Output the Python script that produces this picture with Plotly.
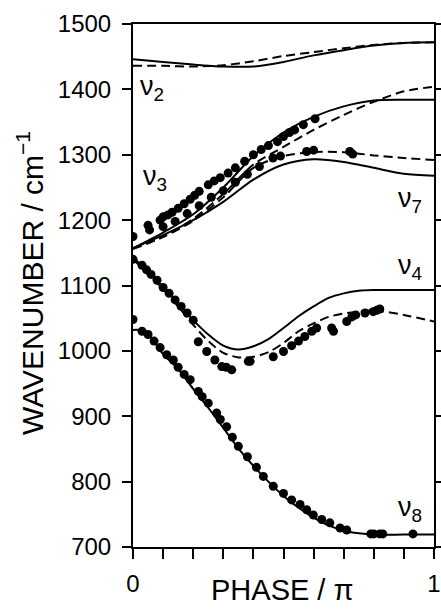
import plotly.graph_objects as go

# ---------------- data ----------------
# nu2 branch
NU2_X = [0, .1, .2, .3, .4, .5, .6, .7, .8, .9, 1.0]
NU2_SOLID = [1446, 1442, 1438, 1435, 1435, 1442, 1452, 1460, 1467, 1471, 1472]
NU2_DASH = [1436, 1436, 1435, 1437, 1443, 1451, 1457, 1463, 1468, 1471, 1472]

# nu3 / nu7 branches
NU37_X = [0, .1, .2, .3, .4, .5, .6, .7, .8, .9, 1.0]
NU3_SOLID = [1157, 1181, 1209, 1250, 1298, 1334, 1358, 1374, 1383, 1384, 1384]
NU3_DASH = [1156, 1175, 1202, 1240, 1285, 1312, 1338, 1361, 1381, 1397, 1404]
NU7_SOLID = [1157, 1177, 1200, 1228, 1262, 1285, 1293, 1289, 1280, 1271, 1268]
NU7_DASH = [1156, 1174, 1199, 1235, 1280, 1298, 1304, 1304, 1299, 1295, 1292]

# nu4 branch
NU4_X = [0, .05, .1, .15, .2, .25, .3, .35, .4, .45, .5, .55, .6, .65, .7, .75, .8, .9, 1.0]
NU4_SOLID = [1143, 1122, 1098, 1073, 1047, 1025, 1008, 1002, 1007, 1018, 1035, 1053, 1068, 1081, 1088, 1092, 1093, 1093, 1093]
NU4_DASH = [1140, 1118, 1094, 1068, 1040, 1015, 997, 990, 991, 998, 1012, 1030, 1042, 1052, 1057, 1060, 1062, 1055, 1045]

# nu8 branch
NU8_X = [0, .04, .1, .15, .2, .25, .3, .35, .4, .45, .5, .55, .6, .65, .7, .75, .8, .9, 1.0]
NU8_SOLID = [1032, 1030, 995, 972, 942, 913, 882, 851, 824, 800, 778, 760, 745, 733, 725, 721, 719, 719, 719]

# measured points
NU3_DOT_X = [0, .05, .055, .09, .10, .116, .13, .15, .17, .19, .205, .22, .25, .27, .29, .316, .34, .371,
             .40, .426, .45, .48, .50, .52, .537, .566, .605]
NU3_DOT_Y = [1175, 1192, 1185, 1200, 1205, 1208, 1212, 1218, 1225, 1232, 1238, 1244, 1254, 1260, 1265, 1272,
             1280, 1290, 1300, 1308, 1314, 1320, 1328, 1334, 1338, 1346, 1355]
NU7_DOT_X = [.10, .14, .18, .22, .26, .30, .34, .38, .42, .465, .49, .577, .60, .72, .73]
NU7_DOT_Y = [1190, 1198, 1210, 1222, 1235, 1245, 1258, 1270, 1282, 1295, 1298, 1305, 1307, 1305, 1301]
NU4_DOT_X = [0, .03, .045, .06, .08, .10, .12, .14, .16, .18, .20, .217, .245, .272, .295, .31, .328, .383,
             .389, .466, .50, .527, .55, .571, .594, .61, .66, .666, .71, .727, .74, .771, .798, .81, .82]
NU4_DOT_Y = [1140, 1131, 1124, 1117, 1108, 1097, 1088, 1078, 1068, 1058, 1047, 1014, 999, 986, 976, 975, 971, 984,
             984, 991, 999, 1008, 1015, 1022, 1030, 1035, 1035, 1030, 1045, 1052, 1055, 1058, 1060, 1062, 1064]
NU8_DOT_X = [0, .03, .05, .07, .09, .112, .134, .15, .17, .19, .217, .23, .25, .278, .29, .311, .33, .35, .38,
             .41, .433, .466, .50, .527, .555, .577, .599, .627, .654, .688, .71, .79, .80, .82, .83, .93]
NU8_DOT_Y = [1048, 1030, 1025, 1015, 1005, 994, 986, 975, 964, 956, 938, 930, 920, 905, 895, 884, 868, 854, 838,
             822, 808, 793, 782, 772, 765, 757, 749, 742, 737, 729, 726, 720, 720, 720, 720, 720]

X_TICKS = [0, 1.0]
X_TICK_TEXT = ["0", "1"]
X_MINOR_TICKS = [.1, .2, .3, .4, .5, .6, .7, .8, .9]
Y_TICKS = [700, 800, 900, 1000, 1100, 1200, 1300, 1400, 1500]

LABELS = ["ν<sub>2</sub>", "ν<sub>3</sub>", "ν<sub>7</sub>", "ν<sub>4</sub>", "ν<sub>8</sub>"]
LABEL_X = [0.063, 0.073, 0.92, 0.92, 0.92]
LABEL_Y = [1402, 1265, 1231, 1128, 758]

# ---------------- figure ----------------
fig = go.Figure()

def line(x, y, dash):
    fig.add_trace(go.Scatter(x=x, y=y, mode="lines",
                             line=dict(color="black", width=2, dash=dash, shape="spline", smoothing=0.8),
                             showlegend=False, hoverinfo="skip"))

def dots(x, y):
    fig.add_trace(go.Scatter(x=x, y=y, mode="markers",
                             marker=dict(color="black", size=9, line=dict(width=0)),
                             showlegend=False, hoverinfo="skip"))

DASH = "9px,5px"
line(NU2_X, NU2_SOLID, "solid")
line(NU2_X, NU2_DASH, DASH)
line(NU37_X, NU3_SOLID, "solid")
line(NU37_X, NU3_DASH, DASH)
line(NU37_X, NU7_SOLID, "solid")
line(NU37_X, NU7_DASH, DASH)
line(NU4_X, NU4_SOLID, "solid")
line(NU4_X, NU4_DASH, DASH)
line(NU8_X, NU8_SOLID, "solid")

dots(NU3_DOT_X, NU3_DOT_Y)
dots(NU7_DOT_X, NU7_DOT_Y)
dots(NU4_DOT_X, NU4_DOT_Y)
dots(NU8_DOT_X, NU8_DOT_Y)

for t, lx, ly in zip(LABELS, LABEL_X, LABEL_Y):
    fig.add_annotation(x=lx, y=ly, xref="x", yref="y", text=t, showarrow=False,
                       font=dict(family="Liberation Sans, Arial", size=27, color="black"))

FONT = "Liberation Sans, Arial, Helvetica, sans-serif"
fig.add_annotation(xref="paper", yref="paper", x=-0.342, y=0.505, textangle=-90,
                   text="WAVENUMBER / cm<sup>−1</sup>", showarrow=False,
                   font=dict(family=FONT, size=30, color="black"), xanchor="center", yanchor="middle")
fig.add_annotation(xref="paper", yref="paper", x=0.498, y=-0.082,
                   text="PHASE / π", showarrow=False,
                   font=dict(family=FONT, size=29, color="black"), xanchor="center", yanchor="middle")

fig.update_layout(
    width=441, height=609,
    margin=dict(l=133, r=7, t=24, b=62, pad=0),
    paper_bgcolor="white", plot_bgcolor="white",
    font=dict(family=FONT, color="black"),
    xaxis=dict(range=[0, 1], tickvals=X_TICKS, ticktext=X_TICK_TEXT, ticks="outside", ticklen=10,
               tickwidth=2, tickcolor="black", showline=True, linecolor="black", linewidth=2,
               mirror=True, showgrid=False, zeroline=False, automargin=False,
               minor=dict(tickvals=X_MINOR_TICKS, ticks="outside", ticklen=10, tickwidth=2,
                          tickcolor="black", showgrid=False),
               tickfont=dict(size=24, color="black"), ticklabelstandoff=4),
    yaxis=dict(range=[700, 1500], tickvals=Y_TICKS, ticks="outside", ticklen=9,
               tickwidth=2, tickcolor="black", showline=True, linecolor="black", linewidth=2,
               mirror="ticks", showgrid=False, zeroline=False, automargin=False,
               tickfont=dict(size=24, color="black"), ticklabelstandoff=6),
)

fig.write_html("out.html")
